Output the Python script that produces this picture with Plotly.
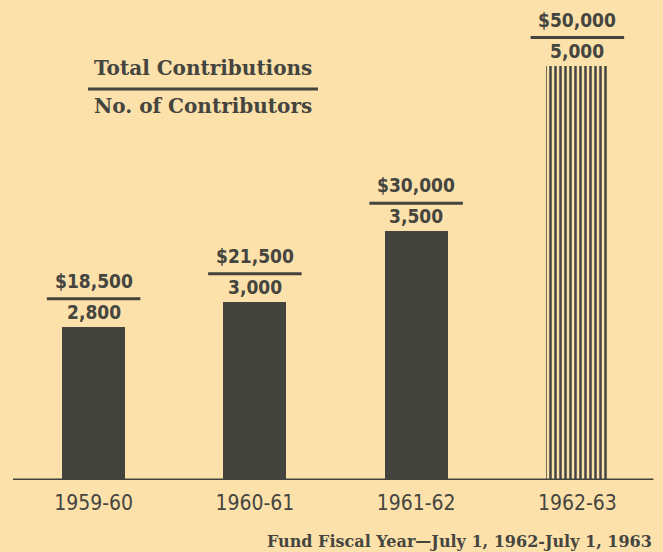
import plotly.graph_objects as go

years = ["1959-60", "1960-61", "1961-62", "1962-63"]
totals = [18500, 21500, 30000, 50000]
contributors = [2800, 3000, 3500, 5000]
total_labels = ["$18,500", "$21,500", "$30,000", "$50,000"]
count_labels = ["2,800", "3,000", "3,500", "5,000"]

BG = "#FCE1AB"
INK = "#43443E"
TXT = "#45453F"
COND = "Liberation Sans Narrow, DejaVu Sans Condensed, Roboto Condensed, Arial Narrow, sans-serif"
SERIF = "DejaVu Serif, Liberation Serif, serif"

W, H = 663, 552
ML, MR, MT, MB = 13, 5, 20, 72

fig = go.Figure()
fig.add_trace(go.Bar(
    x=list(range(len(years))), y=totals, width=0.39,
    marker=dict(
        color=INK,
        line=dict(width=0),
        pattern=dict(shape=["", "", "", "|"], bgcolor=BG,
                     size=5, solidity=0.5, fillmode="overlay", fgopacity=1),
    ),
    hoverinfo="skip", showlegend=False,
))

annotations = []
shapes = []
for i, (v, tl, cl) in enumerate(zip(totals, total_labels, count_labels)):
    annotations.append(dict(x=i, y=v, xref="x", yref="y", text="<b>%s</b>" % tl,
                            showarrow=False, yanchor="middle", yshift=46,
                            font=dict(family=COND, size=19, color=TXT)))
    annotations.append(dict(x=i, y=v, xref="x", yref="y", text="<b>%s</b>" % cl,
                            showarrow=False, yanchor="middle", yshift=15,
                            font=dict(family=COND, size=19, color=TXT)))
    shapes.append(dict(type="line", xref="x", yref="y", x0=i - 0.29, x1=i + 0.29,
                       ysizemode="pixel", yanchor=v, y0=28, y1=28,
                       line=dict(color=INK, width=3)))

# baseline
shapes.append(dict(type="line", xref="paper", yref="y", x0=0, x1=0.993, y0=0, y1=0,
                   line=dict(color=INK, width=3)))

def px(xp):
    return (xp - ML) / (W - ML - MR)

def py(yp):
    return (H - MB - yp) / (H - MT - MB)

annotations.append(dict(x=px(203), y=py(68), xref="paper", yref="paper",
                        text="<b>Total Contributions</b>", showarrow=False,
                        xanchor="center", yanchor="middle",
                        font=dict(family=SERIF, size=20, color=TXT)))
annotations.append(dict(x=px(203), y=py(106), xref="paper", yref="paper",
                        text="<b>No. of Contributors</b>", showarrow=False,
                        xanchor="center", yanchor="middle",
                        font=dict(family=SERIF, size=20, color=TXT)))
shapes.append(dict(type="line", xref="paper", yref="paper", x0=px(88), x1=px(318),
                   y0=py(89), y1=py(89), line=dict(color=INK, width=3)))

annotations.append(dict(x=px(654), y=py(541), xref="paper", yref="paper",
                        text="<b>Fund Fiscal Year—July 1, 1962-July 1, 1963</b>",
                        showarrow=False, xanchor="right", yanchor="middle",
                        font=dict(family=SERIF, size=16, color=TXT)))

fig.update_layout(
    width=W, height=H,
    margin=dict(l=ML, r=MR, t=MT, b=MB),
    paper_bgcolor=BG, plot_bgcolor=BG,
    xaxis=dict(range=[-0.5, 3.5], tickmode="array", tickvals=list(range(len(years))),
               ticktext=years, showgrid=False, zeroline=False, showline=False,
               ticks="", ticklabelstandoff=8,
               tickfont=dict(family=COND, size=21, color=TXT)),
    yaxis=dict(range=[0, 55500], visible=False, showgrid=False, zeroline=False),
    annotations=annotations, shapes=shapes, bargap=0,
)

fig.write_html("out.html")
